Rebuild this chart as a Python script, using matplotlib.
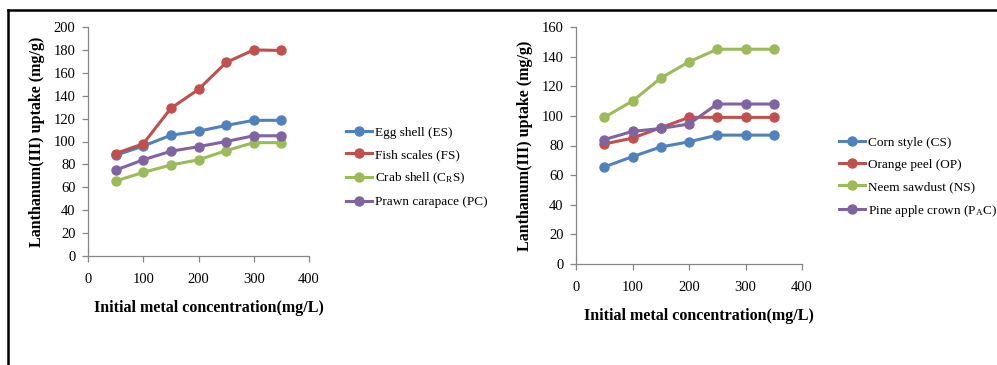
import matplotlib
matplotlib.use("Agg")
import matplotlib.pyplot as plt
from matplotlib.lines import Line2D

plt.rcParams['font.family'] = ['Liberation Serif', 'DejaVu Serif']
plt.rcParams['mathtext.fontset'] = 'custom'
plt.rcParams['mathtext.rm'] = 'Liberation Serif'
plt.rcParams['mathtext.it'] = 'Liberation Serif:italic'

conc = [50, 100, 150, 200, 250, 300, 350]

# animal-based sorbents
es = [88, 96, 105.5, 109, 114, 118.5, 118.5]
fs = [89.5, 98, 129, 145.5, 169, 180, 179.5]
crs = [65.5, 73, 79.5, 84, 92, 99, 99]
pc = [75, 84, 91.5, 95.5, 100, 105, 105]
left_names = ['Egg shell (ES)', 'Fish scales (FS)',
              r'Crab shell (C$_\mathrm{R}$S)', 'Prawn carapace (PC)']

# plant-based sorbents
cs = [65.5, 72.5, 79, 82.5, 87, 87, 87]
op = [81, 85, 92, 99, 99, 99, 99]
ns = [99, 110, 125.5, 136.5, 145, 145, 145]
pac = [84, 89.5, 91.5, 94.5, 108, 108, 108]
right_names = ['Corn style (CS)', 'Orange peel (OP)',
               'Neem sawdust (NS)', r'Pine apple crown (P$_\mathrm{A}$C)']

colors = ['#4F81BD', '#C0504D', '#9BBB59', '#8064A2']

W, H = 997, 365
fig = plt.figure(figsize=(W / 100, H / 100), dpi=100)


def px_axes(x0, y_top, x1, y_bot):
    return fig.add_axes([x0 / W, 1 - y_bot / H, (x1 - x0) / W, (y_bot - y_top) / H])


def style(ax, ymax):
    ax.set_xlim(0, 400)
    ax.set_ylim(0, ymax)
    ax.set_xticks(range(0, 401, 100))
    ax.set_yticks(range(0, ymax + 1, 20))
    for s in ['top', 'right']:
        ax.spines[s].set_visible(False)
    for s in ['left', 'bottom']:
        ax.spines[s].set_color('#868686')
        ax.spines[s].set_linewidth(0.9)
    ax.tick_params(length=4, width=0.9, color='#868686', labelsize=10.5)
    ax.tick_params(axis='x', pad=8)
    ax.tick_params(axis='y', pad=5)
    ax.set_xlabel('Initial metal concentration(mg/L)', fontsize=11.5,
                  fontweight='bold', labelpad=10)
    ax.xaxis.label.set_x(0.545)
    ax.set_ylabel('Lanthanum(III) uptake (mg/g)', fontsize=11.5,
                  fontweight='bold', labelpad=6)


def draw(ax, series, names, lx, ly):
    for vals, c in zip(series, colors):
        ax.plot(conc, vals, color=c, lw=2.2, marker='o', ms=6.5, clip_on=False)
    handles = [Line2D([], [], color=c, lw=2.2, marker='o', ms=6.5) for c in colors]
    fig.legend(handles, names, loc='upper left', bbox_to_anchor=(lx / W, 1 - ly / H),
               frameon=False, fontsize=9.5, handlelength=2.0, handletextpad=0.2,
               labelspacing=0.75, borderpad=0)


ax1 = px_axes(88, 27, 309, 256)
style(ax1, 200)
draw(ax1, [es, fs, crs, pc], left_names, 339, 120)

ax2 = px_axes(576, 27, 802, 264)
style(ax2, 160)
draw(ax2, [cs, op, ns, pac], right_names, 832, 130)

# page frame
fig.add_artist(Line2D([8 / W, 1], [1 - 10 / H, 1 - 10 / H], color='black', lw=1.8))
fig.add_artist(Line2D([8 / W, 8 / W], [0, 1 - 10 / H], color='black', lw=1.8))

fig.savefig('out.png', dpi=100)
